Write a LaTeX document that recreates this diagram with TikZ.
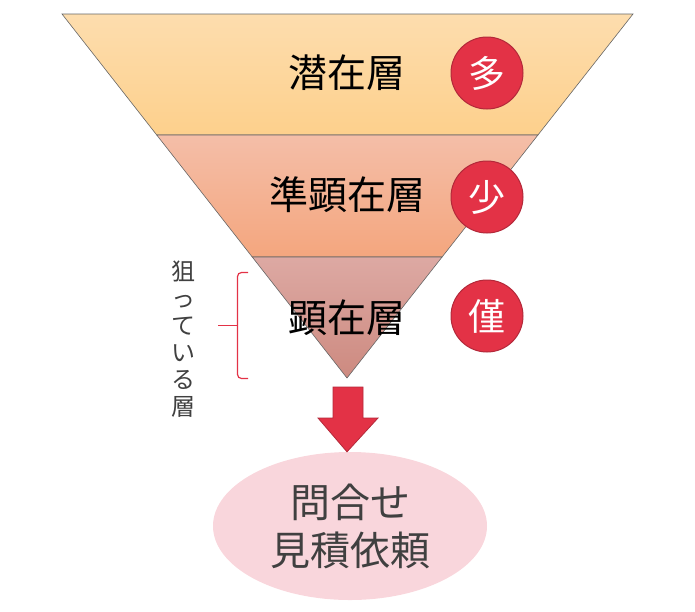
\documentclass[tikz,border=0pt]{standalone}
\usepackage{fontspec}
\newfontfamily\jpfont{Noto Sans CJK JP}
\usetikzlibrary{positioning,calc,shapes.geometric}

\definecolor{latenttop}{HTML}{FDDDAE}
\definecolor{latentbot}{HTML}{FDD08C}
\definecolor{semitop}{HTML}{F4BEA8}
\definecolor{semibot}{HTML}{F4A67E}
\definecolor{overttop}{HTML}{DDA9A3}
\definecolor{overtbot}{HTML}{CD8A80}
\definecolor{badgered}{HTML}{E33246}
\definecolor{badgeedge}{HTML}{B3293A}
\definecolor{goalpink}{HTML}{F9D6DC}
\definecolor{textgray}{HTML}{404040}

\begin{document}
\begin{tikzpicture}[x=1pt,y=-1pt,
  layer/.style={draw=black!60, line width=0.6pt},
  lbl/.style={font=\jpfont\fontsize{39}{42}\selectfont},
  badge/.style={circle, draw=badgeedge, fill=badgered, line width=1pt,
    minimum size=72pt, inner sep=0pt, text=white,
    font=\jpfont\fontsize{37}{40}\selectfont},
  goal/.style={ellipse, fill=goalpink, minimum width=274pt, minimum height=148pt,
    inner sep=0pt, align=center, text=textgray,
    font=\jpfont\fontsize{40}{48}\selectfont},
  side/.style={align=center, text=textgray, font=\jpfont\fontsize{24}{27}\selectfont},
  bracket/.style={draw=badgered, line width=1.2pt, rounded corners=4pt},
]
\useasboundingbox (0,0) rectangle (695,611);

  % funnel corners
  \coordinate (tl) at (62,14);
  \coordinate (tr) at (633,14);
  \coordinate (apex) at (347,378);
  \coordinate (l1) at ($(tl)!0.3324!(apex)$);
  \coordinate (r1) at ($(tr)!0.3324!(apex)$);
  \coordinate (l2) at ($(tl)!0.6676!(apex)$);
  \coordinate (r2) at ($(tr)!0.6676!(apex)$);

  \path[layer, top color=latenttop, bottom color=latentbot] (tl) -- (tr) -- (r1) -- (l1) -- cycle;
  \path[layer, top color=semitop, bottom color=semibot] (l1) -- (r1) -- (r2) -- (l2) -- cycle;
  \path[layer, top color=overttop, bottom color=overtbot] (l2) -- (r2) -- (apex) -- cycle;

  \node[lbl] (latent) at (347,73) {潜在層};
  \node[lbl] (semi) at (347,195) {準顕在層};
  \node[lbl] (overt) at (347,318) {顕在層};

  \node[badge] (many) at (487,73) {多};
  \node[badge] (few) at (487,197) {少};
  \node[badge] (rare) at (487,316) {僅};

  % target bracket
  \coordinate (bt) at (248,272.5);
  \coordinate (bb) at (248,378.5);
  \coordinate (bm) at (218,325.5);
  \path[bracket] (bt) -- (237.5,272.5) -- (237.5,378.5) -- (bb);
  \path[bracket, rounded corners=0pt] (237.5,325.5) -- (bm);
  \node[side] (target) at (183,339) {狙\\っ\\て\\い\\る\\層};

  \node[goal] (inquiry) at (350,526) {問合せ\\見積依頼};

  % down arrow
  \path[draw=badgeedge, fill=badgered, line width=0.8pt]
    (333,387) -- (363,387) -- (363,418) -- (378,418) -- (inquiry.north -| apex)
    -- (318,418) -- (333,418) -- cycle;

\end{tikzpicture}
\end{document}
